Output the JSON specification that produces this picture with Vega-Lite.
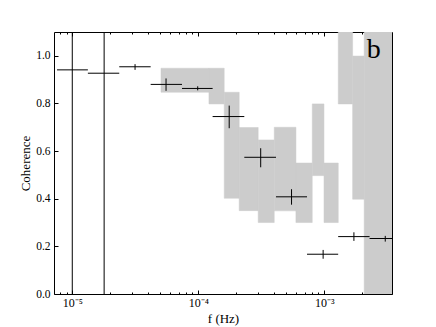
{
  "$schema": "https://vega.github.io/schema/vega-lite/v6.json",
  "width": 338,
  "height": 262,
  "autosize": {"type": "none"},
  "padding": {"left": 54, "top": 32, "right": 44, "bottom": 33},
  "background": "white",
  "config": {
    "font": "Liberation Serif",
    "view": {"stroke": "black", "strokeWidth": 1},
    "axis": {
      "domain": false,
      "grid": false,
      "labelFont": "Liberation Serif",
      "labelFontSize": 11.5,
      "labelColor": "black",
      "titleFont": "Liberation Serif",
      "titleFontSize": 13,
      "titleFontWeight": "normal",
      "titleColor": "black",
      "tickColor": "black",
      "tickWidth": 1
    }
  },
  "datasets": {
    "band": [
      {"f0": 5.06e-5, "f1": 1.216e-4, "lo": 0.847, "hi": 0.948},
      {"f0": 1.216e-4, "f1": 1.607e-4, "lo": 0.798, "hi": 0.948},
      {"f0": 1.607e-4, "f1": 2.113e-4, "lo": 0.402, "hi": 0.847},
      {"f0": 2.113e-4, "f1": 2.99e-4, "lo": 0.350, "hi": 0.699},
      {"f0": 2.99e-4, "f1": 4.01e-4, "lo": 0.300, "hi": 0.647},
      {"f0": 4.01e-4, "f1": 5.96e-4, "lo": 0.349, "hi": 0.700},
      {"f0": 5.96e-4, "f1": 8.03e-4, "lo": 0.300, "hi": 0.550},
      {"f0": 8.03e-4, "f1": 9.95e-4, "lo": 0.497, "hi": 0.798},
      {"f0": 9.95e-4, "f1": 1.292e-3, "lo": 0.300, "hi": 0.550},
      {"f0": 1.292e-3, "f1": 1.68e-3, "lo": 0.798, "hi": 1.5},
      {"f0": 1.68e-3, "f1": 2.075e-3, "lo": 0.398, "hi": 0.999},
      {"f0": 2.075e-3, "f1": 5e-3, "lo": -0.5, "hi": 1.5}
    ],
    "pts": [
      {"x": 1.0e-5, "y": 0.941, "xlo": 7.57e-6, "xhi": 1.33e-5, "ylo": -0.5, "yhi": 2},
      {"x": 1.79e-5, "y": 0.927, "xlo": 1.33e-5, "xhi": 2.36e-5, "ylo": -0.5, "yhi": 2},
      {"x": 3.15e-5, "y": 0.954, "xlo": 2.36e-5, "xhi": 4.19e-5, "ylo": 0.941, "yhi": 0.965},
      {"x": 5.55e-5, "y": 0.880, "xlo": 4.19e-5, "xhi": 7.43e-5, "ylo": 0.853, "yhi": 0.905},
      {"x": 9.9e-5, "y": 0.863, "xlo": 7.43e-5, "xhi": 1.30e-4, "ylo": 0.855, "yhi": 0.872},
      {"x": 1.76e-4, "y": 0.745, "xlo": 1.30e-4, "xhi": 2.32e-4, "ylo": 0.696, "yhi": 0.791},
      {"x": 3.13e-4, "y": 0.574, "xlo": 2.32e-4, "xhi": 4.14e-4, "ylo": 0.532, "yhi": 0.612},
      {"x": 5.5e-4, "y": 0.408, "xlo": 4.14e-4, "xhi": 7.30e-4, "ylo": 0.375, "yhi": 0.440},
      {"x": 9.8e-4, "y": 0.167, "xlo": 7.30e-4, "xhi": 1.29e-3, "ylo": 0.148, "yhi": 0.185},
      {"x": 1.72e-3, "y": 0.241, "xlo": 1.29e-3, "xhi": 2.29e-3, "ylo": 0.223, "yhi": 0.259},
      {"x": 3.05e-3, "y": 0.233, "xlo": 2.29e-3, "xhi": 4.07e-3, "ylo": 0.220, "yhi": 0.244}
    ],
    "label": [
      {"f": 2.17e-3, "v": 0.99, "t": "b"}
    ]
  },
  "layer": [
    {
      "data": {"name": "band"},
      "mark": {"type": "rect", "fill": "#cccccc", "stroke": "#cccccc", "strokeWidth": 0.5, "clip": true},
      "encoding": {
        "x": {
          "field": "f0", "type": "quantitative",
          "scale": {"type": "log", "domain": [7.16e-6, 3.45e-3], "nice": false},
          "title": "f (Hz)",
          "axis": {
            "orient": "bottom",
            "values": [8e-6, 9e-6, 1e-5, 2e-5, 3e-5, 4e-5, 5e-5, 6e-5, 7e-5, 8e-5, 9e-5, 1e-4, 2e-4, 3e-4, 4e-4, 5e-4, 6e-4, 7e-4, 8e-4, 9e-4, 1e-3, 2e-3, 3e-3],
            "labelExpr": "datum.value == 0.00001 ? '10⁻⁵' : datum.value == 0.0001 ? '10⁻⁴' : datum.value == 0.001 ? '10⁻³' : ''",
            "labelFontSize": 12,
            "tickSize": {"condition": {"test": "datum.value == 0.00001 || datum.value == 0.0001 || datum.value == 0.001", "value": -4}, "value": -2},
            "labelPadding": 7,
            "labelFlush": false,
            "labelOverlap": false,
            "titlePadding": 2
          }
        },
        "x2": {"field": "f1"},
        "y": {
          "field": "lo", "type": "quantitative",
          "scale": {"domain": [0, 1.1], "nice": false, "zero": false},
          "title": "Coherence",
          "axis": {
            "orient": "left",
            "values": [0, 0.2, 0.4, 0.6, 0.8, 1.0],
            "format": ".1f",
            "tickSize": -4,
            "labelPadding": 8,
            "titlePadding": 3
          }
        },
        "y2": {"field": "hi"}
      }
    },
    {
      "data": {"name": "pts"},
      "mark": {"type": "rule", "color": "black", "strokeWidth": 1, "clip": true},
      "encoding": {
        "x": {
          "field": "xlo", "type": "quantitative",
          "scale": {"type": "log", "domain": [7.16e-6, 3.45e-3], "nice": false},
          "axis": {
            "orient": "top",
            "title": null,
            "labels": false,
            "values": [8e-6, 9e-6, 1e-5, 2e-5, 3e-5, 4e-5, 5e-5, 6e-5, 7e-5, 8e-5, 9e-5, 1e-4, 2e-4, 3e-4, 4e-4, 5e-4, 6e-4, 7e-4, 8e-4, 9e-4, 1e-3, 2e-3, 3e-3],
            "tickSize": {"condition": {"test": "datum.value == 0.00001 || datum.value == 0.0001 || datum.value == 0.001", "value": -4}, "value": -2}
          }
        },
        "x2": {"field": "xhi"},
        "y": {
          "field": "y", "type": "quantitative",
          "scale": {"domain": [0, 1.1], "nice": false, "zero": false},
          "axis": {
            "orient": "right",
            "title": null,
            "labels": false,
            "values": [0, 0.2, 0.4, 0.6, 0.8, 1.0],
            "tickSize": -4
          }
        }
      }
    },
    {
      "data": {"name": "pts"},
      "mark": {"type": "rule", "color": "black", "strokeWidth": 1, "clip": true},
      "encoding": {
        "x": {
          "field": "x", "type": "quantitative",
          "scale": {"type": "log", "domain": [7.16e-6, 3.45e-3], "nice": false},
          "axis": null
        },
        "y": {
          "field": "ylo", "type": "quantitative",
          "scale": {"domain": [0, 1.1], "nice": false, "zero": false},
          "axis": null
        },
        "y2": {"field": "yhi"}
      }
    },
    {
      "data": {"name": "label"},
      "mark": {"type": "text", "align": "left", "baseline": "alphabetic", "fontSize": 28, "font": "Liberation Serif", "color": "black"},
      "encoding": {
        "x": {
          "field": "f", "type": "quantitative",
          "scale": {"type": "log", "domain": [7.16e-6, 3.45e-3], "nice": false},
          "axis": null
        },
        "y": {
          "field": "v", "type": "quantitative",
          "scale": {"domain": [0, 1.1], "nice": false, "zero": false},
          "axis": null
        },
        "text": {"field": "t"}
      }
    }
  ],
  "resolve": {"axis": {"x": "independent", "y": "independent"}}
}
